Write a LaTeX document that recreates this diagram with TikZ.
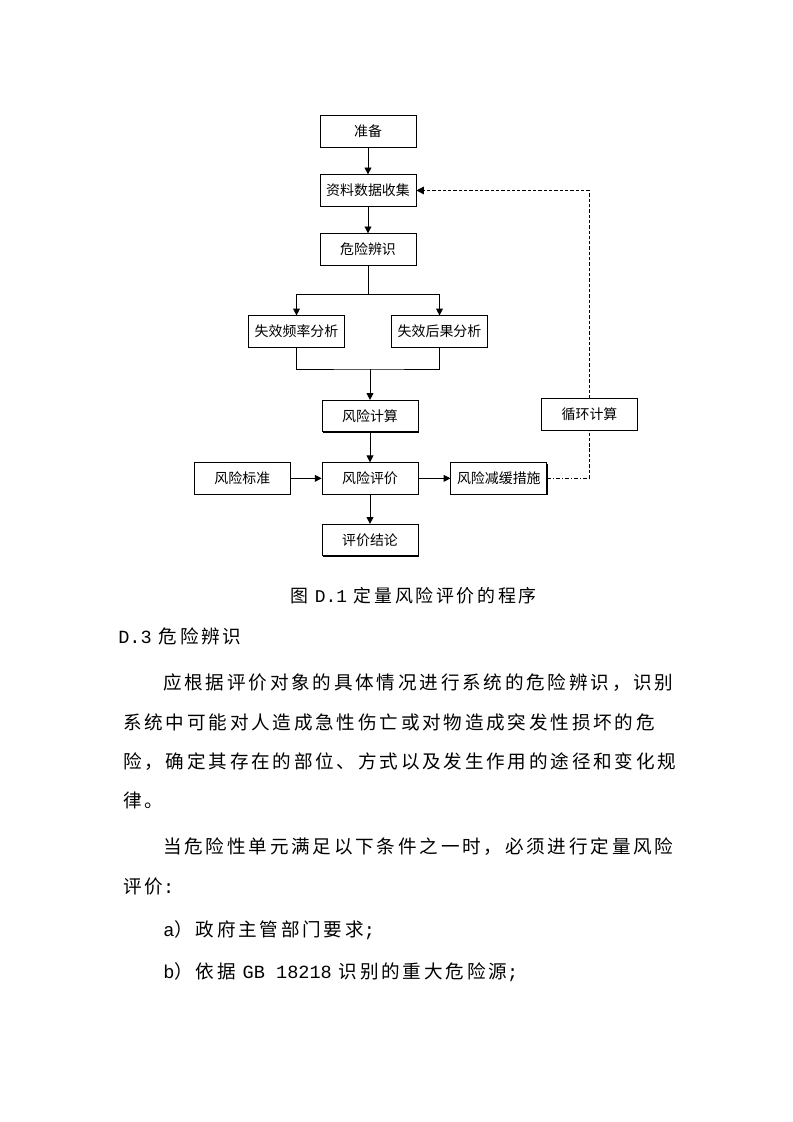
\documentclass[tikz,border=0pt]{standalone}
\usepackage{fontspec}
\setmainfont{Noto Sans CJK SC}
\newfontfamily\boxfont{Noto Sans CJK SC}
\newfontfamily\bodyfont[LetterSpace=15]{Noto Sans CJK SC}
\newfontfamily\latinfont{Liberation Mono}
\usetikzlibrary{arrows.meta,positioning,shadows}
\XeTeXlinebreaklocale "zh"
\XeTeXlinebreakskip=0pt plus 4pt
\newcommand\justline[2]{\makebox[#1][s]{#2}}
\newcommand\lat[1]{{\latinfont #1}}

\begin{document}
\begin{tikzpicture}[
    x=0.2648mm, y=-0.2648mm,
    node distance=7.1mm and 8.2mm,
    box/.style={draw, fill=white, line width=0.6pt, minimum width=25.4mm, minimum height=8.3mm, inner sep=1pt,
        font=\boxfont\fontsize{10.5pt}{12pt}\selectfont,
        drop shadow={shadow xshift=0.7pt, shadow yshift=-0.7pt, opacity=1, fill=black}},
    arr/.style={-{Triangle[length=1.8mm, width=1.8mm]}, line width=0.6pt},
    link/.style={line width=0.6pt},
    fb/.style={line width=0.6pt, dash pattern=on 2.5pt off 1.5pt},
    dashdot/.style={line width=0.6pt, dash pattern=on 3pt off 1.5pt on 0.7pt off 1.5pt},
    txt/.style={anchor=west, inner sep=0pt, font=\bodyfont\fontsize{14pt}{16pt}\selectfont},
    captxt/.style={anchor=west, inner sep=0pt, font=\bodyfont\fontsize{13.5pt}{16pt}\selectfont}
]
\fill[white] (0,0) rectangle (793,1122);
\useasboundingbox (0,0) rectangle (793,1122);

\node[box] (prep) at (368,131.5) {准备};
\node[box, below=of prep] (collect) {资料数据收集};
\node[box, below=of collect] (ident) {危险辨识};

\node[box] (freq) at (296.5,331.5) {失效频率分析};
\node[box] (cons) at (439.5,331.5) {失效后果分析};

\node[box] (calc) at (370,416) {风险计算};
\node[box, below=8mm of calc] (eval) {风险评价};
\node[box, left=of eval] (std) {风险标准};
\node[box, right=8.5mm of eval] (mitig) {风险减缓措施};
\node[box, below=7.8mm of eval] (concl) {评价结论};
\node[box] (loop) at (589.5,414.5) {循环计算};

\coordinate (join) at (calc.north |- 0,369);
\coordinate (turn) at (loop |- mitig);
\coordinate (corner) at (loop |- collect);

\draw[arr] (prep) -- (collect);
\draw[arr] (collect) -- (ident);
\draw[link] (ident.south) -- ++(0,29) coordinate (split);
\draw[arr] (split) -| (freq.north);
\draw[arr] (split) -| (cons.north);
\draw[link] (freq.south) |- (join) -| (cons.south);
\draw[arr] (join) -- (calc.north);
\draw[arr] (calc) -- (eval);
\draw[arr] (std) -- (eval);
\draw[arr] (eval) -- (mitig);
\draw[arr] (eval) -- (concl);

\draw[dashdot] (mitig) -- (turn);
\draw[fb] (turn) -- (loop);
\draw[fb] (loop) -- (corner);
\draw[fb, line width=0.9pt, -{Triangle[length=2mm, width=2mm]}] (corner) -- (collect);

\node[captxt] (title) at (290,596) {图 \lat{D.1} 定量风险评价的程序};
\node[txt] (sec) at (118,636) {\lat{D.3} 危险辨识};
\node[txt] (l1) at (163,683) {\justline{134.3mm}{应根据评价对象的具体情况进行系统的危险辨识，识别}};
\node[txt] (l2) at (123,722) {\justline{144.9mm}{系统中可能对人造成急性伤亡或对物造成突发性损坏的危}};
\node[txt] (l3) at (123,762) {\justline{144.9mm}{险，确定其存在的部位、方式以及发生作用的途径和变化规}};
\node[txt] (l4) at (123,800) {律。};
\node[txt] (l5) at (163,847) {\justline{134.3mm}{当危险性单元满足以下条件之一时，必须进行定量风险}};
\node[txt] (l6) at (123,886) {评价\lat{:}};
\node[txt] (l7) at (163,930) {\lat{a}）政府主管部门要求\lat{;}};
\node[txt] (l8) at (163,972) {\lat{b}）依据 \lat{GB 18218} 识别的重大危险源\lat{;}};
\end{tikzpicture}
\end{document}
